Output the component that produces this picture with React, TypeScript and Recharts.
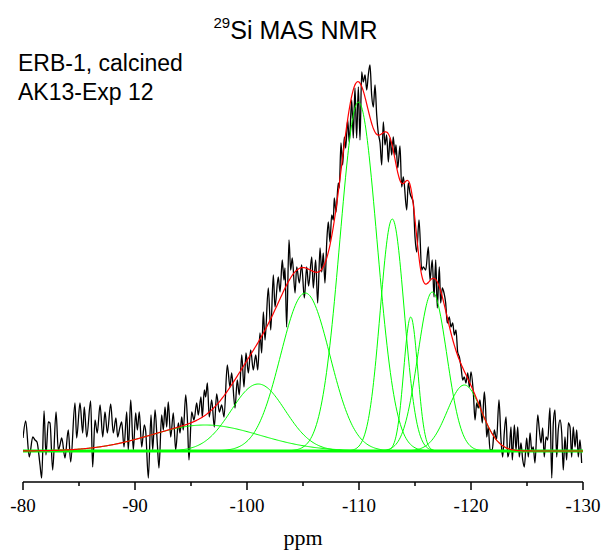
import { Label, Line, LineChart, ReferenceLine, XAxis, YAxis } from "recharts";

const specPpm = [
  -80.0, -80.24, -80.56, -80.87, -81.07, -81.25, -81.52, -81.67, -81.88, -82.05,
  -82.26, -82.41, -82.65, -82.95, -83.15, -83.3, -83.46, -83.75, -84.04, -84.26,
  -84.64, -84.79, -85.09, -85.33, -85.47, -85.69, -86.04, -86.22, -86.43, -86.63,
  -86.88, -87.12, -87.32, -87.53, -87.83, -88.06, -88.3, -88.45, -88.66, -88.81,
  -89.02, -89.26, -89.4, -89.62, -89.85, -90.06, -90.21, -90.38, -90.6, -90.83,
  -90.96, -91.19, -91.43, -91.58, -91.79, -91.99, -92.14, -92.38, -92.53, -92.68,
  -92.83, -92.97, -93.19, -93.42, -93.63, -93.87, -94.02, -94.17, -94.31, -94.53,
  -94.67, -94.82, -95.06, -95.27, -95.51, -95.65, -95.89, -96.01, -96.19, -96.31,
  -96.46, -96.63, -96.85, -97.08, -97.29, -97.53, -97.74, -97.95, -98.24, -98.48,
  -98.63, -98.93, -99.13, -99.31, -99.53, -99.73, -99.91, -100.12, -100.33, -100.56,
  -100.78, -100.96, -101.16, -101.31, -101.46, -101.61, -101.9, -102.12, -102.35, -102.5,
  -102.79, -102.95, -103.15, -103.3, -103.39, -103.54, -103.75, -103.9, -104.04, -104.29,
  -104.44, -104.67, -104.88, -105.12, -105.33, -105.5, -105.78, -105.92, -106.13, -106.31,
  -106.52, -106.67, -106.81, -106.96, -107.12, -107.26, -107.41, -107.56, -107.71, -107.79,
  -107.95, -108.15, -108.24, -108.39, -108.54, -108.69, -108.81, -108.99, -109.13, -109.35,
  -109.49, -109.64, -109.79, -109.94, -110.09, -110.24, -110.38, -110.54, -110.69, -110.83,
  -110.98, -111.13, -111.28, -111.43, -111.58, -111.72, -111.88, -112.03, -112.17, -112.32,
  -112.47, -112.62, -112.77, -112.92, -113.06, -113.21, -113.3, -113.46, -113.66, -113.81,
  -113.96, -114.26, -114.4, -114.55, -114.85, -115.0, -115.15, -115.36, -115.6, -115.74,
  -115.96, -116.19, -116.34, -116.54, -116.7, -116.85, -116.99, -117.17, -117.29, -117.44,
  -117.59, -117.74, -117.88, -118.06, -118.21, -118.37, -118.51, -118.66, -118.81, -118.96,
  -119.11, -119.26, -119.4, -119.55, -119.71, -119.85, -120.0, -120.21, -120.36, -120.51,
  -120.65, -120.8, -121.01, -121.19, -121.31, -121.4, -121.54, -121.7, -121.9, -122.08,
  -122.28, -122.5, -122.68, -122.83, -122.97, -123.13, -123.28, -123.42, -123.57, -123.69,
  -123.87, -124.02, -124.17, -124.31, -124.46, -124.62, -124.76, -124.97, -125.12, -125.27,
  -125.42, -125.56, -125.71, -125.96, -126.1, -126.25, -126.4, -126.54, -126.7, -126.85,
  -127.05, -127.21, -127.35, -127.5, -127.65, -127.79, -127.95, -128.1, -128.24, -128.39,
  -128.54, -128.69, -128.84, -128.99, -129.13, -129.29, -129.44, -129.58, -129.73, -129.88,
];
const specInt = [
  13, 30, -6, 14, 11, 9, -14, -27, 40, -4,
  29, 28, -19, 39, 1, 6, 13, -7, 21, -11,
  48, 13, 48, 18, 44, 14, 50, -16, 31, 18,
  46, 14, 39, 18, 47, 18, 33, 14, 24, 29,
  4, 39, 1, 51, 1, 38, 21, 39, 4, 26,
  19, -27, 36, 1, 41, 8, -17, 36, 21, 44,
  24, 49, 14, 38, 1, 28, 18, 34, 21, 56,
  34, -9, 39, 31, 48, 36, 54, 34, 61, 54,
  68, 34, 51, 24, 57, 39, 46, 34, 86, 64,
  78, 43, 71, 56, 96, 64, 98, 78, 101, 81,
  96, 81, 118, 98, 139, 111, 163, 121, 176, 144,
  174, 159, 191, 171, 183, 124, 211, 181, 193, 158,
  184, 168, 186, 153, 184, 165, 194, 163, 191, 148,
  203, 179, 198, 168, 209, 229, 209, 236, 231, 253,
  239, 268, 263, 308, 286, 314, 303, 331, 309, 351,
  313, 363, 313, 364, 311, 379, 369, 376, 361, 376,
  386, 356, 344, 366, 336, 318, 308, 286, 329, 306,
  316, 289, 313, 296, 314, 296, 306, 283, 305, 264,
  274, 241, 268, 258, 248, 214, 199, 231, 181, 184,
  181, 204, 171, 191, 154, 191, 143, 184, 148, 163,
  158, 148, 128, 134, 124, 128, 116, 121, 99, 94,
  84, 71, 74, 68, 78, 64, 79, 58, 31, 48,
  43, 51, 28, 59, 41, 14, 24, 1, 1, 21,
  11, 51, 11, -6, 18, 34, -6, 1, 24, -9,
  26, 1, 24, -6, 8, -9, -16, 13, -6, 18,
  1, 4, -12, 36, 21, 8, 23, -6, 14, 11,
  43, -27, 28, 41, -6, 21, 31, 18, -19, 14,
  -9, 28, 24, -6, 24, 4, 21, -6, 11, -12,
];

// fitted Gaussian components: position (ppm), height, width (sigma, ppm)
const peakCentre = [-96.25, -101.0, -105.2, -109.95, -112.97, -114.62, -116.55, -119.4];
const peakHeight = [26, 67, 158, 349, 232, 134, 159, 66];
const peakWidth = [4.9, 2.41, 2.2, 1.65, 1.07, 0.625, 1.29, 1.52];

const xTicks = [-80, -85, -90, -95, -100, -105, -110, -115, -120, -125, -130];

const spectrum = specPpm.map((ppm, i) => ({ ppm, y: specInt[i] }));

const fitRows: any[] = [];
for (let i = 0; i <= 500; i++) {
  const ppm = Math.round((-80 - i * 0.1) * 10) / 10;
  const row: any = { ppm };
  let sum = 0;
  peakCentre.forEach((c, k) => {
    const v = peakHeight[k] * Math.exp(-((ppm - c) ** 2) / (2 * peakWidth[k] ** 2));
    row["p" + k] = v;
    sum += v;
  });
  row.fit = sum;
  fitRows.push(row);
}

const SANS = "'Liberation Sans', Arial, Helvetica, sans-serif";
const SERIF = "'Liberation Serif', 'Times New Roman', serif";

const AxisTick = (props: any) => {
  const { x, y, payload } = props;
  const major = payload.value % 10 === 0;
  return (
    <g>
      <line x1={x} x2={x} y1={y} y2={y + (major ? 8 : 4)} stroke="#000" strokeWidth={1.5} />
      {major && (
        <text x={x} y={y + 30} textAnchor="middle" fontFamily={SERIF} fontSize={19} fill="#000">
          {payload.value}
        </text>
      )}
    </g>
  );
};

const renderPpm = (props: any) => {
  const { viewBox } = props;
  return (
    <text
      x={viewBox.x + viewBox.width / 2}
      y={viewBox.y + 63}
      textAnchor="middle"
      fontFamily={SERIF}
      fontSize={22}
      fill="#000"
    >
      ppm
    </text>
  );
};

const App = () => {
  return (
    <div style={{ position: "absolute", left: 0, top: 0, width: 603, height: 558, background: "#fff" }}>
      <LineChart width={603} height={558} data={fitRows} margin={{ top: 60, right: 20, bottom: 46, left: 23 }}>
        <XAxis
          type="number"
          dataKey="ppm"
          domain={[-130, -80]}
          reversed
          allowDataOverflow
          ticks={xTicks}
          interval={0}
          tickSize={0}
          tickMargin={0}
          tickLine={false}
          tick={AxisTick}
          height={30}
          axisLine={{ stroke: "#000", strokeWidth: 1.5 }}
        >
          <Label content={renderPpm} />
        </XAxis>
        <YAxis type="number" domain={[-31, 391]} allowDataOverflow hide />
        <Line
          data={spectrum}
          dataKey="y"
          type="monotone"
          stroke="#000"
          strokeWidth={1.3}
          dot={false}
          activeDot={false}
          isAnimationActive={false}
        />
        {peakCentre.map((_, k) => (
          <Line
            key={k}
            dataKey={"p" + k}
            type="monotone"
            stroke="#00ff00"
            strokeWidth={1}
            dot={false}
            activeDot={false}
            isAnimationActive={false}
          />
        ))}
        <ReferenceLine y={0} stroke="#00ff00" strokeWidth={3} />
        <Line
          dataKey="fit"
          type="monotone"
          stroke="#ff0000"
          strokeWidth={1.2}
          dot={false}
          activeDot={false}
          isAnimationActive={false}
        />
      </LineChart>
      <div
        style={{
          position: "absolute",
          left: -6,
          top: 16,
          width: 603,
          textAlign: "center",
          fontFamily: SANS,
          fontSize: 25,
          lineHeight: "normal",
          whiteSpace: "nowrap",
        }}
      >
        <span style={{ fontSize: 15, position: "relative", top: -11 }}>29</span>Si MAS NMR
      </div>
      <div style={{ position: "absolute", left: 18, top: 50, fontFamily: SANS, fontSize: 23, lineHeight: "normal" }}>
        ERB-1, calcined
      </div>
      <div style={{ position: "absolute", left: 18, top: 79, fontFamily: SANS, fontSize: 23, lineHeight: "normal" }}>
        AK13-Exp 12
      </div>
    </div>
  );
};

export default App;
